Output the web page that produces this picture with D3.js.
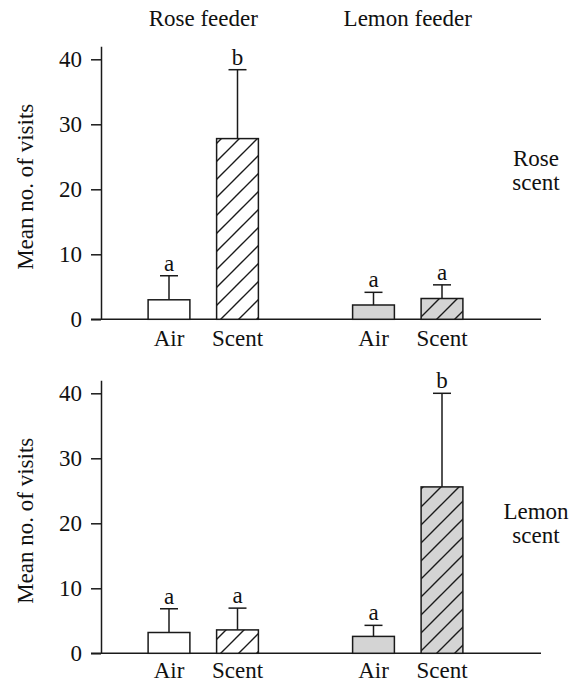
<!DOCTYPE html>
<html>
<head>
<meta charset="utf-8">
<script src="https://cdn.jsdelivr.net/npm/d3@7"></script>
<style>
    body { margin: 0; background: #fff; }
    text { font-family: "Liberation Serif", "Times New Roman", serif; fill: #111; }
</style>
</head>
<body>
<div id="chart_parent"></div>
<script>
const feeders = ['Rose feeder', 'Lemon feeder'];
const treatments = ['Air', 'Scent'];
const scentLabels = [['Rose', 'scent'], ['Lemon', 'scent']];
const yTicks = [0, 10, 20, 30, 40];

// order: rose feeder air, rose feeder scent, lemon feeder air, lemon feeder scent
const roseScentMeans = [3.0, 27.8, 2.2, 3.2];
const roseScentErrors = [3.7, 10.6, 1.95, 2.1];
const roseScentLetters = ['a', 'b', 'a', 'a'];

const lemonScentMeans = [3.2, 3.6, 2.6, 25.6];
const lemonScentErrors = [3.65, 3.35, 1.7, 14.4];
const lemonScentLetters = ['a', 'a', 'a', 'b'];

const chartConfig = {
    outerWidth: 578,
    outerHeight: 684,
    axisX: 101,
    baselineEnd: 541,
    yMax: 42,
    fontSize: 23,
    ink: '#1a1a1a',
    lemonFill: '#d4d4d4',
    panels: [
        { offset: 0, zeroY: 319.3, labelGap: 27, sideTop: 166, means: roseScentMeans, errors: roseScentErrors, letters: roseScentLetters, side: scentLabels[0] },
        { offset: 334, zeroY: 319.3, labelGap: 25, sideTop: 185, means: lemonScentMeans, errors: lemonScentErrors, letters: lemonScentLetters, side: scentLabels[1] },
    ],
};

function initialiseChart(rootSelector, config) {
    const svg = d3.select(rootSelector).append('svg')
        .attr('width', config.outerWidth)
        .attr('height', config.outerHeight)
        .style('display', 'block');

    // diagonal hatch, "/" lines
    svg.append('defs').append('pattern')
        .attr('id', 'hatch')
        .attr('patternUnits', 'userSpaceOnUse')
        .attr('width', 18)
        .attr('height', 18)
        .append('path')
        .attr('d', 'M0,18 L18,0 M-3,3 L3,-3 M15,21 L21,15')
        .attr('stroke', config.ink)
        .attr('stroke-width', 1.4);

    return svg;
}

function drawPanel(svg, config, panel, xGroup, xInner, showHeaders) {
    const g = svg.append('g').attr('transform', `translate(0,${panel.offset})`);

    const yScale = d3.scaleLinear()
        .domain([0, config.yMax])
        .range([panel.zeroY, panel.zeroY - config.yMax * 6.5]);

    const yAxis = d3.axisLeft(yScale)
        .tickValues(yTicks)
        .tickSize(10)
        .tickSizeOuter(0)
        .tickPadding(9);

    const axisG = g.append('g')
        .attr('transform', `translate(${config.axisX},0)`)
        .call(yAxis);
    axisG.selectAll('path, line').attr('stroke', config.ink).attr('stroke-width', 1.5);
    axisG.selectAll('text')
        .style('font-family', '"Liberation Serif", serif')
        .style('font-size', `${config.fontSize}px`)
        .attr('fill', config.ink);

    g.append('line')
        .attr('x1', config.axisX - 10)
        .attr('x2', config.baselineEnd)
        .attr('y1', yScale(0))
        .attr('y2', yScale(0))
        .attr('stroke', config.ink)
        .attr('stroke-width', 1.5);

    const rows = [];
    feeders.forEach((feeder, i) => {
        treatments.forEach((treatment, j) => {
            const ix = i * 2 + j;
            rows.push({
                feeder,
                treatment,
                mean: panel.means[ix],
                err: panel.errors[ix],
                letter: panel.letters[ix],
            });
        });
    });

    const bw = xInner.bandwidth();
    const barX = d => xGroup(d.feeder) + xInner(d.treatment);
    const centreX = d => barX(d) + bw / 2;

    const bars = g.selectAll('.bar').data(rows).enter().append('g').attr('class', 'bar');

    // error bars first so the bar outline sits on top
    bars.append('line')
        .attr('x1', centreX)
        .attr('x2', centreX)
        .attr('y1', d => yScale(d.mean))
        .attr('y2', d => yScale(d.mean + d.err))
        .attr('stroke', config.ink)
        .attr('stroke-width', 1.5);
    bars.append('line')
        .attr('x1', d => centreX(d) - 9)
        .attr('x2', d => centreX(d) + 9)
        .attr('y1', d => yScale(d.mean + d.err))
        .attr('y2', d => yScale(d.mean + d.err))
        .attr('stroke', config.ink)
        .attr('stroke-width', 1.5);

    bars.append('rect')
        .attr('x', barX)
        .attr('y', d => yScale(d.mean))
        .attr('width', bw)
        .attr('height', d => yScale(0) - yScale(d.mean))
        .attr('fill', d => (d.feeder === feeders[0] ? '#fff' : config.lemonFill));

    bars.filter(d => d.treatment === 'Scent').append('rect')
        .attr('x', barX)
        .attr('y', d => yScale(d.mean))
        .attr('width', bw)
        .attr('height', d => yScale(0) - yScale(d.mean))
        .attr('fill', 'url(#hatch)');

    bars.append('rect')
        .attr('x', barX)
        .attr('y', d => yScale(d.mean))
        .attr('width', bw)
        .attr('height', d => yScale(0) - yScale(d.mean))
        .attr('fill', 'none')
        .attr('stroke', config.ink)
        .attr('stroke-width', 1.5);

    bars.append('text')
        .attr('x', centreX)
        .attr('y', d => yScale(d.mean + d.err) - 5)
        .attr('text-anchor', 'middle')
        .style('font-size', `${config.fontSize}px`)
        .text(d => d.letter);

    bars.append('text')
        .attr('x', centreX)
        .attr('y', yScale(0) + panel.labelGap)
        .attr('text-anchor', 'middle')
        .style('font-size', `${config.fontSize}px`)
        .text(d => d.treatment);

    // y title
    const midY = (yScale(0) + yScale(config.yMax)) / 2 + 4;
    g.append('text')
        .attr('transform', `translate(33,${midY}) rotate(-90)`)
        .attr('text-anchor', 'middle')
        .style('font-size', `${config.fontSize}px`)
        .text('Mean no. of visits');

    // scent label at right
    g.append('text')
        .attr('x', 536)
        .attr('y', panel.sideTop)
        .attr('text-anchor', 'middle')
        .style('font-size', `${config.fontSize}px`)
        .selectAll('tspan')
        .data(panel.side)
        .enter()
        .append('tspan')
        .attr('x', 536)
        .attr('dy', (d, i) => (i === 0 ? 0 : 24))
        .text(d => d);

    if (showHeaders) {
        g.selectAll('.header').data(feeders).enter().append('text')
            .attr('class', 'header')
            .attr('x', d => xGroup(d))
            .attr('y', 26)
            .attr('text-anchor', 'middle')
            .style('font-size', `${config.fontSize}px`)
            .text(d => d);
    }
}

const svg = initialiseChart('#chart_parent', chartConfig);

const xGroup = d3.scalePoint()
    .domain(feeders)
    .range([203.25, 407.75]);

const xInner = d3.scaleBand()
    .domain(treatments)
    .range([-68.5, 68.5])
    .paddingInner(0.39)
    .paddingOuter(0.195);

chartConfig.panels.forEach((panel, i) => {
    drawPanel(svg, chartConfig, panel, xGroup, xInner, i === 0);
});
</script>
</body>
</html>
